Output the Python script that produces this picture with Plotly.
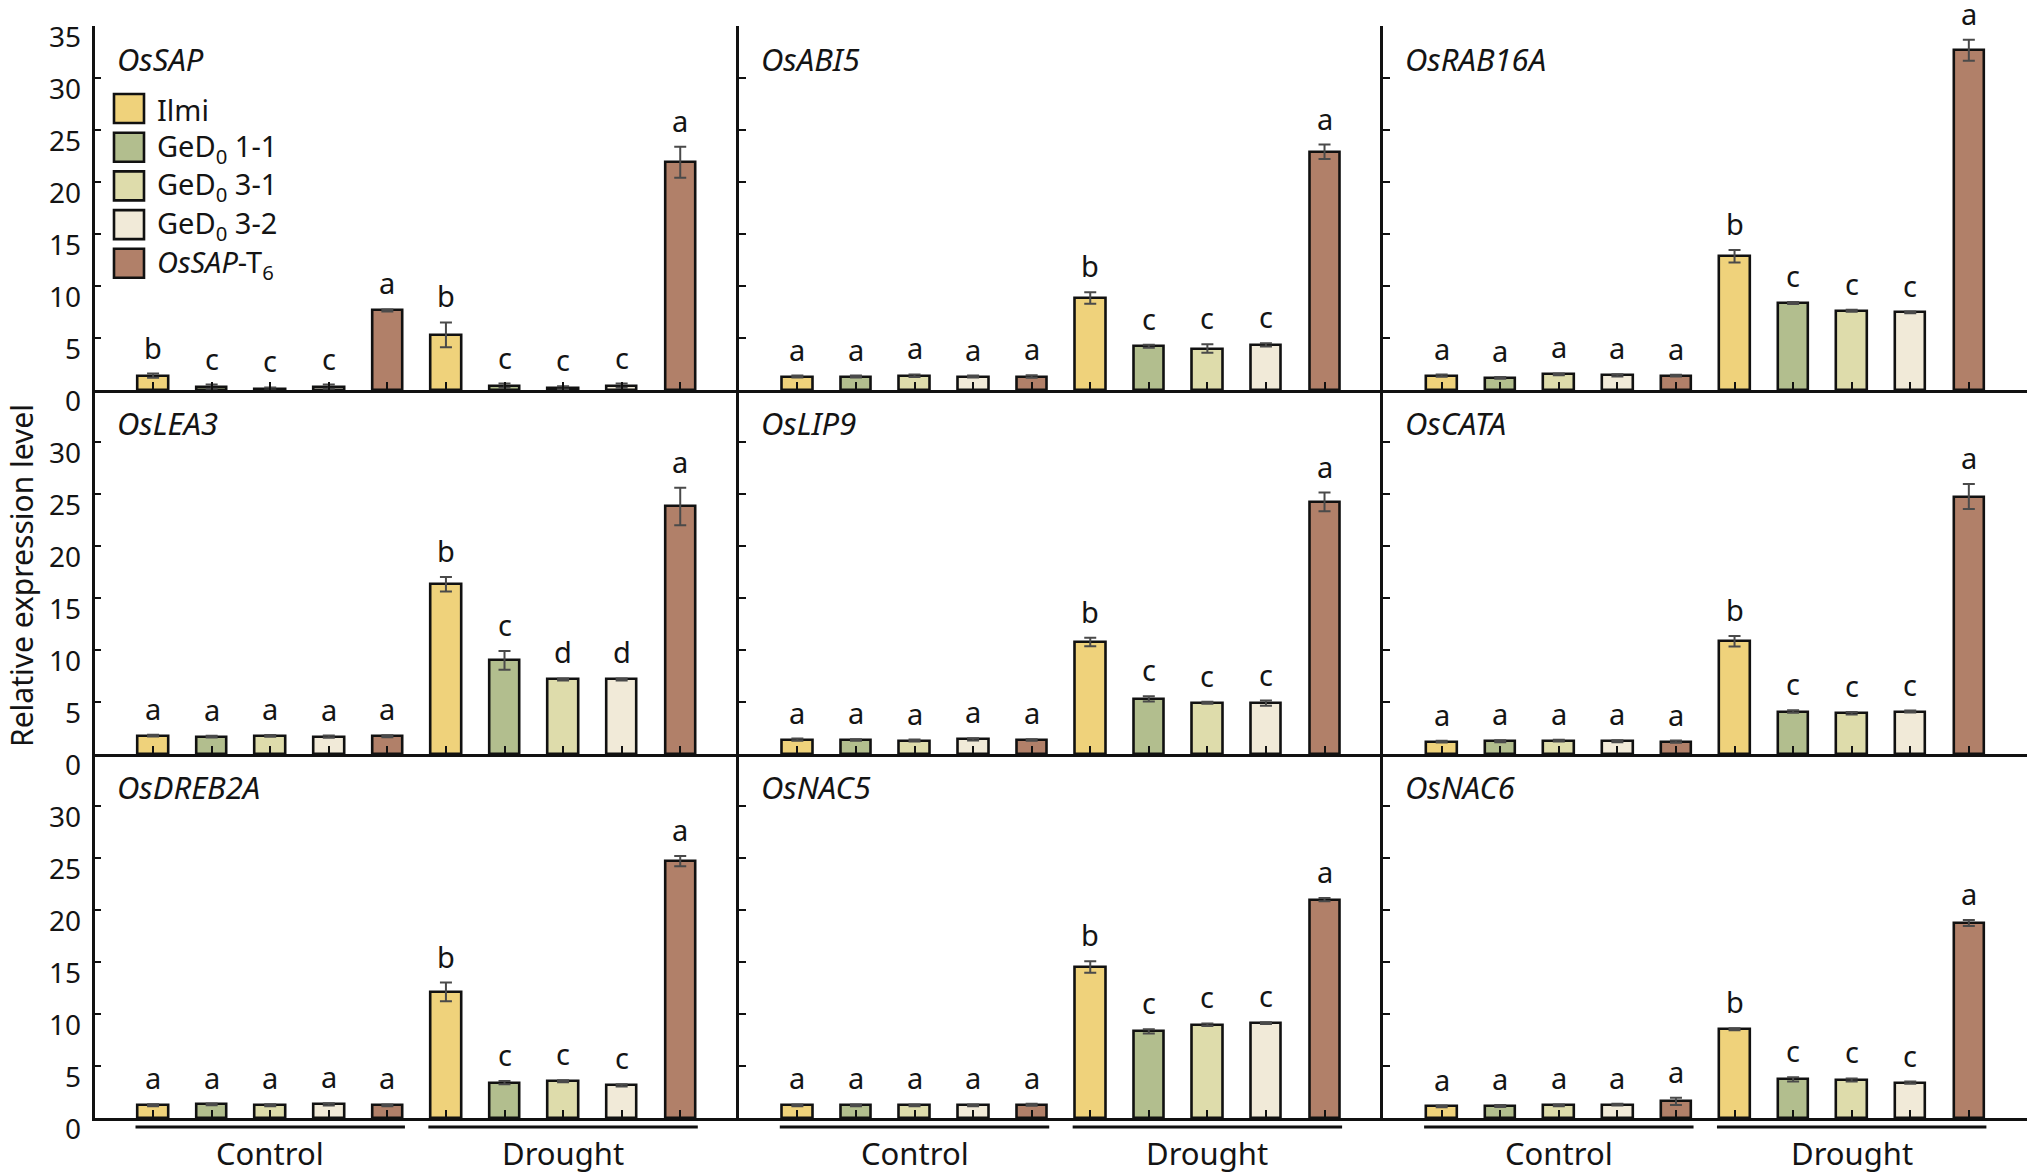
import plotly.graph_objects as go

# ---------------- data ----------------
lines_names = ["Ilmi", "GeD<sub>0</sub> 1-1", "GeD<sub>0</sub> 3-1", "GeD<sub>0</sub> 3-2", "<i>OsSAP</i>-T<sub>6</sub>"]
line_colors = ["#EFD27B", "#B2BE8E", "#DEDCAB", "#F1EAD8", "#B18069"]
conditions = ["Control", "Drought"]
genes = ["OsSAP", "OsABI5", "OsRAB16A", "OsLEA3", "OsLIP9", "OsCATA", "OsDREB2A", "OsNAC5", "OsNAC6"]
y_ticks = [0, 5, 10, 15, 20, 25, 30, 35]

OsSAP_mean = [1.38, 0.32, 0.10, 0.32, 7.65, 5.30, 0.42, 0.20, 0.42, 21.90]
OsSAP_err = [0.20, 0.20, 0.15, 0.20, 0.10, 1.20, 0.20, 0.15, 0.20, 1.50]
OsSAP_sig = ["b", "c", "c", "c", "a", "b", "c", "c", "c", "a"]

OsABI5_mean = [1.29, 1.29, 1.38, 1.29, 1.29, 8.84, 4.21, 3.99, 4.34, 22.90]
OsABI5_err = [0.10, 0.10, 0.12, 0.10, 0.12, 0.55, 0.15, 0.40, 0.15, 0.70]
OsABI5_sig = ["a", "a", "a", "a", "a", "b", "c", "c", "c", "a"]

OsRAB16A_mean = [1.38, 1.16, 1.51, 1.41, 1.38, 12.86, 8.36, 7.62, 7.46, 32.67]
OsRAB16A_err = [0.10, 0.08, 0.08, 0.10, 0.08, 0.60, 0.10, 0.10, 0.08, 1.00]
OsRAB16A_sig = ["a", "a", "a", "a", "a", "b", "c", "c", "c", "a"]

OsLEA3_mean = [1.77, 1.67, 1.74, 1.67, 1.70, 16.33, 9.00, 7.17, 7.17, 23.80]
OsLEA3_err = [0.08, 0.08, 0.08, 0.10, 0.10, 0.70, 0.90, 0.10, 0.10, 1.80]
OsLEA3_sig = ["a", "a", "a", "a", "a", "b", "c", "d", "d", "a"]

OsLIP9_mean = [1.38, 1.35, 1.29, 1.41, 1.35, 10.77, 5.30, 4.92, 4.89, 24.24]
OsLIP9_err = [0.10, 0.08, 0.10, 0.10, 0.08, 0.40, 0.25, 0.10, 0.25, 0.90]
OsLIP9_sig = ["a", "a", "a", "a", "a", "b", "c", "c", "c", "a"]

OsCATA_mean = [1.19, 1.22, 1.29, 1.22, 1.19, 10.84, 4.08, 3.92, 4.08, 24.76]
OsCATA_err = [0.08, 0.10, 0.08, 0.10, 0.10, 0.50, 0.12, 0.12, 0.10, 1.20]
OsCATA_sig = ["a", "a", "a", "a", "a", "b", "c", "c", "c", "a"]

OsDREB2A_mean = [1.22, 1.31, 1.22, 1.31, 1.22, 12.12, 3.40, 3.53, 3.14, 24.70]
OsDREB2A_err = [0.10, 0.08, 0.10, 0.10, 0.08, 0.90, 0.15, 0.10, 0.10, 0.50]
OsDREB2A_sig = ["a", "a", "a", "a", "a", "b", "c", "c", "c", "a"]

OsNAC5_mean = [1.22, 1.22, 1.22, 1.22, 1.28, 14.52, 8.33, 8.97, 9.13, 21.00]
OsNAC5_err = [0.08, 0.08, 0.08, 0.08, 0.10, 0.55, 0.20, 0.12, 0.08, 0.15]
OsNAC5_sig = ["a", "a", "a", "a", "a", "b", "c", "c", "c", "a"]

OsNAC6_mean = [1.12, 1.15, 1.22, 1.28, 1.60, 8.53, 3.72, 3.65, 3.40, 18.75]
OsNAC6_err = [0.08, 0.10, 0.08, 0.08, 0.35, 0.10, 0.20, 0.15, 0.10, 0.30]
OsNAC6_sig = ["a", "a", "a", "a", "a", "b", "c", "c", "c", "a"]

gene_data = {
    "OsSAP": (OsSAP_mean, OsSAP_err, OsSAP_sig),
    "OsABI5": (OsABI5_mean, OsABI5_err, OsABI5_sig),
    "OsRAB16A": (OsRAB16A_mean, OsRAB16A_err, OsRAB16A_sig),
    "OsLEA3": (OsLEA3_mean, OsLEA3_err, OsLEA3_sig),
    "OsLIP9": (OsLIP9_mean, OsLIP9_err, OsLIP9_sig),
    "OsCATA": (OsCATA_mean, OsCATA_err, OsCATA_sig),
    "OsDREB2A": (OsDREB2A_mean, OsDREB2A_err, OsDREB2A_sig),
    "OsNAC5": (OsNAC5_mean, OsNAC5_err, OsNAC5_sig),
    "OsNAC6": (OsNAC6_mean, OsNAC6_err, OsNAC6_sig),
}

# ---------------- layout geometry (pixels) ----------------
W, H = 2032, 1174
FONT = "Noto Sans"
TXT = "#141414"
col_left = 94.5
col_w = 644.3
row_top = 26.0
row_h = 364.0


def fx(px):
    return px / W


def fy(py):
    return 1 - py / H


fig = go.Figure()
layout = dict(
    width=W, height=H,
    margin=dict(l=0, r=0, t=0, b=0, autoexpand=False),
    paper_bgcolor="white", plot_bgcolor="white",
    showlegend=False,
    font=dict(family=FONT, color=TXT),
    bargap=0,
)
annotations = []
shapes = []

n_lines = len(lines_names)
for k, g in enumerate(genes):
    r, c = divmod(k, 3)
    idx = "" if k == 0 else str(k + 1)
    means, errs, sigs = gene_data[g]
    xs = list(range(1, 2 * n_lines + 1))
    colors = [line_colors[i % n_lines] for i in range(2 * n_lines)]
    fig.add_trace(go.Bar(
        x=xs, y=means, width=0.52,
        marker=dict(color=colors, line=dict(color="#111111", width=2.6)),
        error_y=dict(type="data", array=errs, visible=True, color="#4a4a4a", thickness=2, width=6),
        xaxis="x" + idx, yaxis="y" + idx,
    ))
    x0 = col_left + c * col_w
    x1 = x0 + col_w
    y_top = row_top + r * row_h
    y_bot = y_top + row_h
    layout["xaxis" + idx] = dict(
        domain=[fx(x0), fx(x1)], range=[0, 11], anchor="y" + idx,
        showline=True, linecolor="#111111", linewidth=2.6,
        ticks="inside", ticklen=8, tickwidth=2, tickcolor="#111111",
        tickvals=list(range(0, 12)), showticklabels=False, automargin=False,
        showgrid=False, zeroline=False, fixedrange=True,
    )
    tv = y_ticks if r == 0 else y_ticks[:-1]
    layout["yaxis" + idx] = dict(
        domain=[fy(y_bot), fy(y_top)], range=[0, 35], anchor="x" + idx,
        showline=True, linecolor="#111111", linewidth=2.6,
        ticks="inside", ticklen=7, tickwidth=2, tickcolor="#111111",
        tickvals=tv, automargin=False,
        showticklabels=(c == 0), ticklabelshift=11, ticklabelstandoff=5,
        tickfont=dict(size=28, family=FONT, color=TXT),
        showgrid=False, zeroline=False, fixedrange=True,
    )
    # gene name
    annotations.append(dict(
        text="<i>%s</i>" % g, xref="paper", yref="paper",
        x=fx(x0 + 20), y=fy(y_top + 33), xanchor="left", yanchor="middle",
        showarrow=False, font=dict(size=31, family=FONT, color=TXT),
    ))
    # significance letters
    for xi, m, e, s in zip(xs, means, errs, sigs):
        annotations.append(dict(
            text=s, xref="x" + idx, yref="y" + idx, x=xi, y=m + e,
            xanchor="center", yanchor="bottom", yshift=13, height=26, showarrow=False,
            borderpad=0, font=dict(size=29, family=FONT, color=TXT),
        ))
    # condition groups under the bottom row
    if r == 2:
        for gi, cond in enumerate(conditions):
            xa = 0.7 + gi * 5
            xb = 5.3 + gi * 5
            shapes.append(dict(
                type="line", xref="x" + idx, yref="paper",
                x0=xa, x1=xb, y0=fy(1127), y1=fy(1127),
                line=dict(color="#111111", width=3),
            ))
            annotations.append(dict(
                text=cond, xref="x" + idx, yref="paper",
                x=(xa + xb) / 2, y=fy(1153), xanchor="center", yanchor="middle",
                showarrow=False, font=dict(size=31, family=FONT, color=TXT),
            ))

# legend (inside first panel)
leg_x0, leg_x1 = 114, 144
leg_top = 94
leg_step = 38.7
for i, (name, col) in enumerate(zip(lines_names, line_colors)):
    t = leg_top + i * leg_step
    shapes.append(dict(
        type="rect", xref="paper", yref="paper",
        x0=fx(leg_x0), x1=fx(leg_x1), y0=fy(t + 29), y1=fy(t),
        fillcolor=col, line=dict(color="#111111", width=2.6),
    ))
    annotations.append(dict(
        text=name, xref="paper", yref="paper",
        x=fx(156), y=fy(t + 15), xanchor="left", yanchor="middle",
        height=34, showarrow=False, borderpad=0,
        font=dict(size=29, family=FONT, color=TXT),
    ))

# y-axis title
annotations.append(dict(
    text="Relative expression level", xref="paper", yref="paper",
    x=fx(22), y=fy(576), xanchor="center", yanchor="middle", textangle=-90,
    showarrow=False, font=dict(size=30, family=FONT, color=TXT),
))

layout["annotations"] = annotations
layout["shapes"] = shapes
fig.update_layout(**layout)

fig.write_html(
    "out.html",
    config={"displayModeBar": False},
    post_script="document.body.style.margin='0';document.body.style.overflow='hidden';",
)
